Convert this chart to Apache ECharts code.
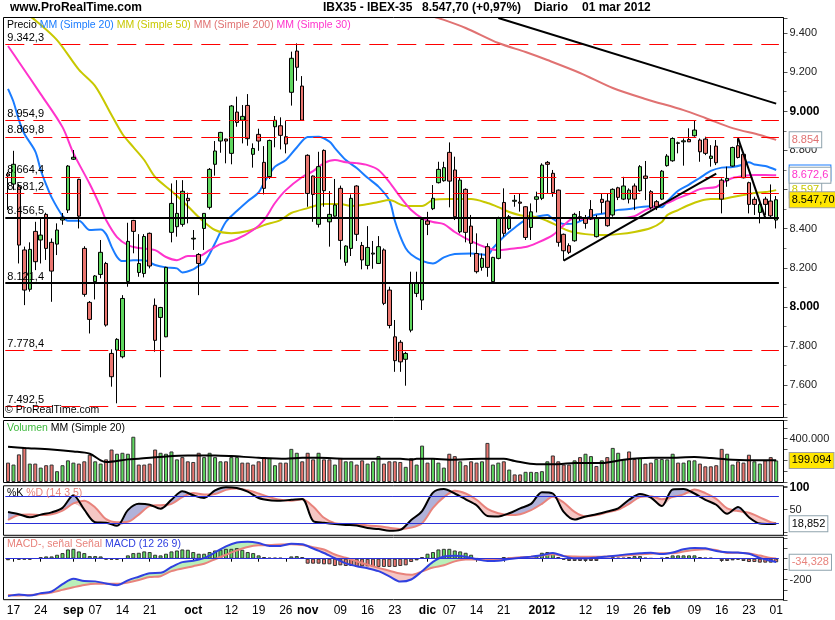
<!DOCTYPE html>
<html><head><meta charset="utf-8"><title>IBX35 - IBEX-35</title>
<script src="https://cdn.jsdelivr.net/npm/echarts@6/dist/echarts.min.js"></script>
<style>html,body{margin:0;padding:0;background:#fff;}#chart{width:835px;height:620px;}</style>
</head><body><div id="chart"></div>
<script>
// ================= DATA =================
const startDate = '2011-08-16', endDate = '2012-03-01', closedDays = ['2011-12-26'];
const tickIdx  = [1,6,12,16,21,26,34,41,46,51,55,61,66,71,77,81,86,91,98,106,111,116,120,126,131,136,141];
const tickText = ['17','24','sep','07','14','21','oct','12','19','26','nov','09','16','23','dic','07','14','21','2012','12','19','26','feb','09','16','23','01'];
const boldTicks = ['sep','oct','nov','dic','2012','feb'];

const openP = [8680,8628,8614,8291,8090,8386,8342,8473,8330,8321, 8444,8495,8755,8652,8299,8023,8129,8166,8222,7762,
 7779,7745,8130,8442,8176,8171,8376,8008,7946,7847, 8381,8410,8422,8555,8347,8268,8401,8509,8729,8848,
 8858,8785,8996,8955,9030,8780,8882,8739,8666,8921, 8926,8870,9097,9308,9129,8775,8669,8422,8800,8435,
 8464,8606,8228,8299,8618,8314,8212,8270,8222,8291, 8086,7847,7819,7732,7881,8069,8035,8439,8502,8635,
 8645,8790,8700,8384,8601,8413,8273,8202,8308,8129, 8248,8534,8401,8540,8536,8512,8406,8550,8555,8739,
 8683,8597,8371,8313,8338,8461,8452,8498,8359,8550, 8541,8470,8609,8551,8551,8618,8594,8669,8589,8538,
 8551,8722,8747,8836,8844,8856,8875,8853,8858,8759, 8822,8648,8645,8720,8824,8780,8635,8550,8483,8551,
 8541,8444];
const highP = [8690,8798,8628,8308,8330,8435,8452,8481,8350,8427, 8480,8725,8802,8655,8310,8030,8163,8342,8230,7783,
 7840,8060,8430,8445,8372,8372,8380,8043,8000,8205, 8631,8648,8648,8584,8393,8275,8480,8710,8848,8895,
 8860,9032,9075,9032,9088,8836,8911,8822,8855,8976, 8969,8950,9305,9347,9180,8780,8672,8793,8805,8592,
 8654,8620,8315,8575,8622,8332,8413,8337,8362,8299, 8103,7933,7830,7770,8180,8180,8450,8486,8623,8742,
 8742,8841,8768,8662,8606,8470,8376,8273,8325,8256, 8461,8606,8470,8572,8580,8515,8529,8589,8734,8746,
 8700,8600,8375,8325,8481,8490,8470,8546,8470,8580, 8580,8606,8614,8665,8606,8631,8725,8746,8597,8546,
 8700,8781,8867,8845,8861,8913,8955,8861,8870,8827, 8853,8657,8717,8819,8861,8785,8640,8563,8538,8563,
 8626,8567];
const lowP = [8495,8597,8222,8009,8078,8188,8222,8240,8026,8265, 8420,8480,8751,8401,8052,7864,8038,8146,7899,7592,
 7507,7737,8103,8274,8154,8151,8197,7771,7640,7845, 8330,8359,8410,8427,8291,8060,8291,8498,8671,8788,
 8734,8729,8921,8836,8824,8712,8798,8575,8654,8816, 8805,8785,9029,9156,8955,8512,8435,8406,8512,8308,
 8461,8243,8210,8260,8337,8192,8192,8195,8220,8009, 7890,7668,7668,7597,7870,8050,7984,8367,8495,8631,
 8640,8509,8444,8376,8330,8256,8171,8185,8154,8123, 8243,8359,8393,8512,8487,8342,8342,8483,8546,8582,
 8563,8308,8236,8270,8333,8440,8400,8444,8355,8478, 8410,8461,8546,8546,8529,8495,8589,8546,8498,8495,
 8546,8717,8742,8785,8722,8844,8870,8742,8776,8717, 8725,8478,8614,8717,8759,8657,8478,8470,8427,8470,
 8452,8401];
const closeP = [8670,8729,8316,8086,8294,8231,8367,8299,8183,8393, 8459,8720,8765,8464,8064,7936,8158,8279,7907,7643,
 7834,8043,8335,8386,8222,8360,8209,7829,7997,8202, 8529,8478,8591,8543,8351,8222,8478,8703,8797,8892,
 8848,9027,8943,8974,8860,8810,8848,8606,8851,8954, 8877,8833,9271,9225,8955,8580,8575,8717,8594,8473,
 8521,8340,8311,8555,8371,8240,8304,8275,8308,8018, 7905,7725,7719,7762,8123,8122,8447,8422,8555,8703,
 8712,8643,8461,8648,8381,8325,8180,8248,8202,8253, 8452,8376,8461,8545,8530,8355,8486,8563,8725,8729,
 8584,8330,8287,8279,8473,8452,8427,8449,8452,8534, 8415,8601,8560,8618,8597,8551,8717,8657,8507,8512,
 8694,8771,8861,8839,8849,8844,8904,8793,8785,8771, 8737,8551,8657,8815,8764,8660,8524,8524,8524,8524,
 8465.6,8547.7];

// moving averages: [day index, value]
const ma20 = [[0,9115],[1,9049],[2,8955],[3,8885],[5,8795],[6,8700],[7,8625],[8,8560],[10,8465],[11,8440],[13,8440],[15,8393],[17,8396],[18,8372],[19,8308],[20,8256],[21,8234],[23,8239],[25,8239],[27,8214],[29,8202],[31,8197],[32,8176],[34,8192],[35,8210],[36,8222],[38,8325],[40,8435],[42,8490],[44,8540],[46,8585],[47,8635],[49,8717],[51,8751],[53,8815],[55,8868],[57,8870],[59,8845],[60,8812],[62,8751],[64,8710],[66,8660],[68,8615],[70,8545],[71,8440],[72,8360],[73,8300],[74,8268],[76,8235],[78,8222],[80,8253],[82,8270],[85,8273],[88,8265],[89,8300],[91,8359],[93,8405],[95,8445],[97,8461],[99,8470],[100,8450],[102,8424],[104,8427],[106,8452],[108,8472],[110,8480],[112,8496],[114,8500],[116,8510],[118,8515],[120,8510],[121,8540],[123,8594],[125,8625],[127,8660],[129,8695],[131,8712],[133,8715],[135,8728],[136,8739],[137,8728],[139,8720],[141,8700]];
const ma50 = [[4,9485],[5,9466],[9,9364],[13,9213],[16,9129],[19,8981],[21,8884],[23,8817],[25,8751],[27,8664],[30,8592],[33,8515],[35,8459],[38,8393],[41,8377],[44,8388],[47,8418],[50,8444],[52,8480],[55,8505],[58,8526],[61,8526],[63,8516],[65,8521],[68,8536],[70,8546],[73,8516],[76,8516],[78,8546],[81,8551],[85,8551],[88,8531],[90,8510],[92,8485],[94,8469],[97,8459],[99,8439],[101,8413],[103,8388],[106,8372],[109,8367],[112,8372],[115,8383],[118,8403],[120,8434],[121,8469],[123,8495],[125,8521],[127,8541],[129,8551],[131,8551],[133,8562],[135,8572],[137,8582],[139,8587],[141,8597]];
const ma200 = [[78,9485],[79,9477],[84,9426],[90,9349],[95,9303],[99,9262],[105,9196],[111,9119],[117,9063],[124,9006],[128,8966],[133,8914],[138,8879],[141,8854]];
const ma30 = [[0,9334],[2,9252],[6,9088],[10,8919],[12,8786],[15,8628],[17,8510],[18,8444],[20,8357],[22,8316],[24,8301],[27,8290],[29,8255],[31,8239],[33,8260],[35,8260],[37,8290],[39,8321],[42,8347],[45,8393],[47,8444],[49,8531],[51,8597],[54,8664],[56,8694],[58,8735],[60,8751],[62,8740],[64,8735],[66,8725],[68,8700],[70,8638],[72,8562],[74,8495],[76,8454],[78,8434],[80,8423],[82,8383],[85,8336],[88,8301],[90,8290],[92,8296],[95,8306],[97,8326],[100,8367],[102,8418],[104,8454],[106,8449],[109,8454],[112,8454],[115,8464],[117,8495],[119,8516],[121,8531],[123,8556],[125,8577],[127,8602],[130,8613],[131,8633],[133,8659],[135,8669],[137,8674],[139,8674],[141,8672.6]];

// levels and trend lines
const redLevels = [9342.3, 8954.9, 8869.8, 8664.4, 8581.2, 7778.4, 7492.5];
const blackLevels = [8456.5, 8121.4];
const trendLines = [[[90,9477],[141,9039]], [[102,8236],[130,8681]], [[134,8863],[139,8455]]];

// volume (thousands) and up/down colour as drawn
const volume = [179,161,255,321,170,170,133,155,161,100, 155,200,179,170,191,252,191,170,209,300,
 261,270,261,418,161,161,170,300,270,261, 282,209,230,191,185,270,230,270,230,191,
 191,230,230,179,179,161,191,230,221,155, 179,179,306,270,191,270,209,270,209,209,
 161,221,191,191,161,200,170,191,239,170, 191,191,185,140,221,161,336,179,221,179,
 133,261,239,191,155,191,179,191,361,161, 179,191,115,70,70,94,94,91,100,191,
 245,191,161,161,200,230,261,239,148,200, 230,315,270,212,282,212,221,170,179,212,
 212,209,261,179,179,200,200,170,145,145, 155,306,261,161,191,179,252,191,170,200,
 230,199.094];
const volDir = 'rgrrgrgrrg'+'gggrrrggrr'+'ggggrrrrgg'+'ggrrrrgggg'+'rggrrrrrgg'+'rrggrrrgrr'+'grggrrgggr'+'rrrgrggrgg'+'grrgrrrgrg'+'grgrrggggg'+'rrrrgrggrg'+'rgggrrgrrg'+'gggrgggrrr'+'rrggrrrggr'+'rg';
const volMA = [[0,325],[3,315],[8,300],[12,282],[15,261],[17,200],[18,185],[22,209],[24,215],[29,236],[33,245],[38,245],[41,239],[46,224],[51,215],[54,224],[57,224],[62,215],[66,215],[72,215],[74,206],[75,215],[78,215],[81,206],[87,215],[91,215],[93,194],[97,164],[101,164],[104,176],[109,176],[113,206],[118,224],[121,224],[126,230],[129,221],[133,206],[138,200],[141,200]];

// oscillators sampled at these day indices
const oscIdx = [0,2,4,6,8,10,12,14,16,18,20,22,24,26,28,30,32,34,36,38,40,42,44,46,48,50,52,54,56,58,60,62,64,66,68,70,72,74,76,78,80,82,84,86,88,90,92,94,96,98,100,102,104,106,108,110,112,114,116,118,120,122,124,126,128,130,132,134,136,138,140,141];
const stochK = [45,40,33,39,44,54,82,50,22,21,14,49,63,61,52,72,91,82,76,93,100,98,90,76,71,70,72,74,25,21,18,16,15,9,7,3,5,27,47,88,96,86,73,60,36,35,42,53,63,89,86,45,28,35,40,46,53,72,85,77,58,95,96,86,72,61,41,56,33,19,18,18.852];
const stochD = [27,38,39,38,40,48,64,70,55,29,22,23,39,58,60,63,78,87,84,85,94,97,93,86,78,72,70,73,57,32,20,18,17,15,13,10,7,10,20,54,78,92,86,72,52,42,38,40,49,63,79,66,45,35,38,44,50,63,78,80,73,78,84,95,87,74,53,47,43,33,22,20];
const macdLine = [-360,-345,-355,-331,-315,-245,-193,-215,-218,-238,-255,-208,-173,-139,-136,-80,-33,-20,5,60,118,155,162,150,123,123,144,138,98,55,5,-45,-72,-92,-120,-170,-220,-200,-120,-30,22,28,20,-6,-22,-20,-3,8,20,34,55,25,5,5,12,21,32,44,52,57,44,60,90,104,100,74,62,59,48,8,-20,-32];
const signalLine = [-348,-353,-350,-340,-325,-300,-275,-253,-242,-242,-242,-228,-205,-177,-168,-120,-94,-72,-48,-5,38,80,113,129,131,137,139,131,111,88,40,9,-25,-58,-88,-115,-143,-155,-122,-85,-63,-26,-8,-8,-11,-11,4,14,19,30,43,25,20,18,18,20,26,33,42,48,53,53,68,83,90,84,55,58,51,30,8,2];
const macdHist = [-15,null,-10,-8,-10,null,15,22,22,38, 54,89,95,70,54,25,25,22,-8,-10,
 -10,null,32,54,57,70,64,38,32,48, 70,79,89,86,64,48,48,64,79,86,
 95,95,102,86,64,54,32,16,10,10, 10,null,22,25,16,-48,-48,-48,-54,-54,
 -70,-64,-70,-70,-79,-73,-73,-79,-79,-79, -79,-79,-70,-64,-32,-16,16,48,64,89,
 95,95,79,70,57,38,5,null,-10,-10, null,16,10,null,null,10,null,25,57,64,
 57,16,-10,-22,-22,-22,-22,-22,-22,null, null,16,10,10,16,25,25,10,6,null,
 10,16,32,32,32,32,32,16,10,10, null,-22,-22,-16,-10,-22,-32,-32,-38,-38,
 -38,-34.328];

// ================= CHART =================
const dates = [];
(function () {
  const d = new Date(startDate + 'T00:00:00Z'), end = new Date(endDate + 'T00:00:00Z');
  while (d <= end) {
    const wd = d.getUTCDay(), s = d.toISOString().slice(0, 10);
    if (wd !== 0 && wd !== 6 && closedDays.indexOf(s) < 0) dates.push(s);
    d.setUTCDate(d.getUTCDate() + 1);
  }
})();

const FONT = '"Liberation Sans", Arial, Helvetica, sans-serif';
const GREEN = '#5fd75f', RED = '#ea7670';
const C20 = '#1a7cff', C50 = '#c8c800', C200 = '#e07272', C30 = '#ff33cc', SAL = '#e8837c', BLUE = '#3040e0';
const tickSet = new Set(tickIdx);

function fmt(v, dec) {
  const neg = v < 0; const s = Math.abs(v).toFixed(dec);
  let parts = s.split('.'); let i = parts[0].replace(/\B(?=(\d{3})+(?!\d))/g, '.');
  return (neg ? '-' : '') + i + (parts[1] ? ',' + parts[1] : '');
}
function rs(color, size, weight) { return {color: color, fontSize: size || 11, fontFamily: FONT, fontWeight: weight || 'normal'}; }

function endBox(idx, val, text, color, bg, border, off) {
  return {symbol: 'circle', symbolSize: 1, itemStyle: {color: 'rgba(0,0,0,0)'}, silent: true, animation: false,
    label: {show: true, position: 'right', distance: 13, offset: off || [0, 0], formatter: text, color: color, backgroundColor: bg,
      borderColor: border, borderWidth: 1, padding: [2, 2, 1, 2], fontSize: 11, fontFamily: FONT, lineHeight: 12},
    data: [{coord: [idx, val]}]};
}
function lineS(data, color, xi, extra) {
  return Object.assign({type: 'line', data: data, xAxisIndex: xi, yAxisIndex: xi, symbol: 'none', showSymbol: false,
    smooth: 0.3, silent: true, lineStyle: {color: color, width: 2}, z: 2}, extra || {});
}
function areaS(data, stack, fill, xi) {
  const s = {type: 'line', data: data, xAxisIndex: xi, yAxisIndex: xi, stack: stack, stackStrategy: 'all',
    symbol: 'none', showSymbol: false, smooth: 0.3, silent: true, lineStyle: {width: 0, opacity: 0}, z: 1};
  if (fill) s.areaStyle = {color: fill, opacity: 1};
  return s;
}
const pairs = (arr) => oscIdx.map((k, i) => [k, arr[i]]);
const kdBase = oscIdx.map((k, i) => [k, Math.min(stochK[i], stochD[i])]);
const kdUp = oscIdx.map((k, i) => [k, Math.max(stochK[i] - stochD[i], 0)]);
const kdDn = oscIdx.map((k, i) => [k, Math.max(stochD[i] - stochK[i], 0)]);
const mBase = oscIdx.map((k, i) => [k, Math.min(macdLine[i], signalLine[i])]);
const mUp = oscIdx.map((k, i) => [k, Math.max(macdLine[i] - signalLine[i], 0)]);
const mDn = oscIdx.map((k, i) => [k, Math.max(signalLine[i] - macdLine[i], 0)]);

const GL = 5.3, GW = 773.6;
const grids = [
  {left: GL, width: GW, top: 18, height: 399},
  {left: GL, width: GW, top: 420.5, height: 61.5},
  {left: GL, width: GW, top: 486.3, height: 49},
  {left: GL, width: GW, top: 537.9, height: 62.4}
];
const xAxes = [0, 1, 2, 3].map(g => ({
  type: 'category', gridIndex: g, data: dates, boundaryGap: true, show: g === 3,
  axisLine: {show: false},
  axisTick: {show: g === 3, alignWithLabel: true, interval: (i) => tickSet.has(i), length: 3, lineStyle: {color: '#000'}},
  axisLabel: {show: g === 3, interval: (i) => tickSet.has(i), margin: 4, fontSize: 12, fontFamily: FONT, color: '#000',
    formatter: (v, i) => { const j = tickIdx.indexOf(i); if (j < 0) return ''; const t = tickText[j]; return boldTicks.indexOf(t) >= 0 ? '{b|' + t + '}' : t; },
    rich: {b: rs('#000', 12, 'bold')}},
  splitLine: {show: false}
}));
function yAx(gi, min, max, extra) {
  return Object.assign({type: 'value', gridIndex: gi, position: 'right', offset: 4.6, min: min, max: max,
    axisLine: {show: true, lineStyle: {color: '#000', width: 1}},
    axisTick: {show: true, length: 4, lineStyle: {color: '#555'}},
    splitLine: {show: false}}, extra);
}
const yAxes = [
  yAx(0, 7437, 9477, {splitNumber: 10, minorTick: {show: true, splitNumber: 2, length: 3, lineStyle: {color: '#777'}},
    axisLabel: {margin: 6, fontSize: 11, fontFamily: FONT, color: '#222',
      formatter: v => { if (Math.round(v) % 200 !== 0 || v === 8600) return ''; const t = fmt(v, 0); return (v === 9000 || v === 8000) ? '{b|' + t + '}' : t; },
      rich: {b: rs('#000', 12, 'bold')}}}),
  yAx(1, 0, 568, {interval: 100, minorTick: {show: false},
    axisLabel: {margin: 6, fontSize: 11, fontFamily: FONT, color: '#222', formatter: v => v === 400 ? fmt(v * 1000, 0) : ''}}),
  yAx(2, -7, 102, {splitNumber: 2,
    axisLabel: {margin: 6, fontSize: 11, fontFamily: FONT, color: '#222', formatter: v => v === 100 ? '{b|100}' : (v === 50 ? '50' : ''),
      rich: {b: rs('#000', 12, 'bold')}}}),
  yAx(3, -400, 200, {interval: 100,
    axisLabel: {margin: 6, fontSize: 11, fontFamily: FONT, color: '#222', formatter: v => v === -200 ? '-200' : ''}})
];

const lvlLabel = (v) => ({show: true, position: 'insideStartTop', formatter: fmt(v, 1), color: '#000', fontSize: 11, fontFamily: FONT, distance: [2, 1]});
const priceMarkLine = {
  symbol: ['none', 'none'], silent: true, animation: false,
  data: [].concat(
    redLevels.map(v => ({yAxis: v, lineStyle: {color: '#ff0000', width: 1, type: [19, 9]}, label: lvlLabel(v)})),
    blackLevels.map(v => ({yAxis: v, lineStyle: {color: '#000', width: 2, type: 'solid'}, label: lvlLabel(v)})),
    trendLines.map(t => [{coord: t[0], lineStyle: {color: '#000', width: 2, type: 'solid'}, label: {show: false}}, {coord: t[1]}])
  )
};
const last = dates.length - 1;
const ohlc = dates.map((_, i) => [openP[i], closeP[i], lowP[i], highP[i]]);
const lastOf = (a) => a[a.length - 1][1];

const series = [
  lineS(ma20, C20, 0, {markPoint: endBox(last, lastOf(ma20), fmt(lastOf(ma20), 1), C20, '#fff', C20, [0, 3])}),
  lineS(ma50, C50, 0, {markPoint: endBox(last, lastOf(ma50), fmt(lastOf(ma50), 0), C50, '#fff', '#8fa3ad')}),
  lineS(ma200, C200, 0, {markPoint: endBox(last, lastOf(ma200), fmt(lastOf(ma200), 0), C200, '#fff', '#8fa3ad')}),
  lineS(ma30, C30, 0, {markPoint: endBox(last, lastOf(ma30), fmt(lastOf(ma30), 1), C30, '#fff', '#8fa3ad')}),
  {type: 'candlestick', name: 'Precio', xAxisIndex: 0, yAxisIndex: 0, barWidth: 4, silent: true, z: 3, data: ohlc,
    itemStyle: {color: GREEN, color0: RED, borderColor: '#000', borderColor0: '#000', borderWidth: 1},
    markLine: priceMarkLine,
    markPoint: endBox(last, closeP[last], fmt(closeP[last], 2), '#000', '#ffe600', '#a0a0a0')},
  // volume
  {type: 'bar', xAxisIndex: 1, yAxisIndex: 1, data: volume, barWidth: 4, silent: true, z: 2,
    itemStyle: {color: p => volDir[p.dataIndex] === 'g' ? GREEN : RED, borderColor: '#333', borderWidth: 1},
    markPoint: endBox(last, volume[last], fmt(volume[last] * 1000, 0), '#000', '#ffe600', '#a0a0a0')},
  lineS(volMA, '#000', 1, {z: 3}),
  // stochastic
  areaS(kdBase, 'kdA', null, 2), areaS(kdUp, 'kdA', '#b0b2da', 2),
  areaS(kdBase, 'kdB', null, 2), areaS(kdDn, 'kdB', '#f5c6c4', 2),
  lineS(pairs(stochD), SAL, 2),
  lineS(pairs(stochK), '#000', 2, {
    markLine: {symbol: ['none', 'none'], silent: true, animation: false, label: {show: false},
      lineStyle: {color: '#2a30d8', width: 1, type: 'solid'}, data: [{yAxis: 80}, {yAxis: 20}]},
    markPoint: endBox(last, stochK[stochK.length - 1], fmt(stochK[stochK.length - 1], 3), '#000', '#fff', '#8fa3ad')}),
  // MACD
  {type: 'bar', xAxisIndex: 3, yAxisIndex: 3, data: macdHist, barWidth: 4, silent: true, z: 1,
    itemStyle: {color: p => p.value >= 0 ? GREEN : RED, borderColor: '#333', borderWidth: 1},
    markLine: {symbol: ['none', 'none'], silent: true, animation: false, label: {show: false},
      lineStyle: {color: '#2a30d8', width: 1, type: 'solid'}, data: [{yAxis: 0}]},
    markPoint: endBox(last, macdHist[last], fmt(macdHist[last], 3), SAL, '#fff', '#8fa3ad')},
  areaS(mBase, 'mA', null, 3), areaS(mUp, 'mA', '#b9efb9', 3),
  areaS(mBase, 'mB', null, 3), areaS(mDn, 'mB', '#f5c6c4', 3),
  lineS(pairs(signalLine), SAL, 3),
  lineS(pairs(macdLine), BLUE, 3)
];

const LF = 10.5;
const titles = [
  {text: 'www.ProRealTime.com', left: 10, top: 2, padding: 0, textStyle: rs('#000', 12, 'bold')},
  {text: 'IBX35 - IBEX-35', left: 323, top: 2, padding: 0, textStyle: rs('#000', 12, 'bold')},
  {text: '8.547,70 (+0,97%)', left: 422, top: 2, padding: 0, textStyle: rs('#000', 12, 'bold')},
  {text: 'Diario', left: 534, top: 2, padding: 0, textStyle: rs('#000', 12, 'bold')},
  {text: '01 mar 2012', left: 582, top: 2, padding: 0, textStyle: rs('#000', 12, 'bold')},
  {text: '{k|Precio} {b|MM (Simple 20)} {y|MM (Simple 50)} {r|MM (Simple 200)} {m|MM (Simple 30)}', left: 7, top: 20, padding: 0,
    textStyle: Object.assign(rs('#000', LF), {rich: {k: rs('#000', LF), b: rs(C20, LF), y: rs(C50, LF), r: rs(C200, LF), m: rs(C30, LF)}})},
  {text: '{g|Volumen} {k|MM (Simple 20)}', left: 7, top: 423, padding: 0,
    textStyle: Object.assign(rs('#000', LF), {rich: {g: rs('#3cb83c', LF), k: rs('#000', LF)}})},
  {text: '{k|%K} {s|%D (14 3 5)}', left: 7, top: 488, padding: 0,
    textStyle: Object.assign(rs('#000', LF), {rich: {k: rs('#000', LF), s: rs(SAL, LF)}})},
  {text: '{s|MACD-, señal Señal} {b|MACD (12 26 9)}', left: 7, top: 539, padding: 0,
    textStyle: Object.assign(rs('#000', LF), {rich: {s: rs(SAL, LF), b: rs(BLUE, LF)}})},
  {text: '© ProRealTime.com', left: 5, top: 405, padding: 0, textStyle: rs('#000', LF)}
];

const frame = (y, h) => ({type: 'rect', shape: {x: 3.5, y: y, width: 780, height: h}, style: {fill: 'none', stroke: '#000', lineWidth: 1}, silent: true, z: 50});

const chart = echarts.init(document.getElementById('chart'), null, {renderer: 'canvas'});
chart.setOption({
  animation: false,
  backgroundColor: '#fff',
  textStyle: {fontFamily: FONT},
  title: titles,
  grid: grids,
  xAxis: xAxes,
  yAxis: yAxes,
  series: series,
  graphic: [frame(17.5, 400), frame(420.5, 62), frame(485.8, 49.5), frame(537.3, 62.4)]
});
</script></body></html>
